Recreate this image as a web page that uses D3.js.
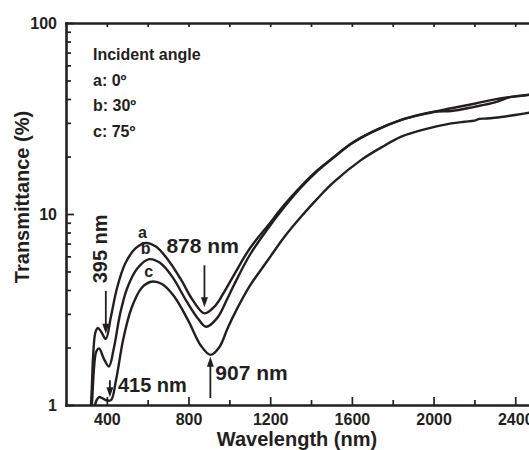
<!DOCTYPE html>
<html>
<head>
<meta charset="utf-8">
<script src="https://cdnjs.cloudflare.com/ajax/libs/d3/7.8.5/d3.min.js"></script>
<style>
body { margin: 0; background: #fff; }
svg text { font-family: "Liberation Sans", Arial, sans-serif; font-weight: bold; fill: #231f20; }
</style>
</head>
<body>
<div id="chart"></div>
<script>
// curve a (0 deg)
const waveA  = [318, 326, 334, 344, 356, 372, 395, 420, 450, 490, 540, 590, 640, 700, 760, 820, 878, 930, 980, 1025, 1100, 1189, 1270, 1352, 1430, 1515, 1597, 1700, 1842, 1960, 2087, 2200, 2300, 2400, 2500]
const transA = [0.8, 1.2, 1.9, 2.4, 2.53, 2.42, 2.22, 2.9, 4.1, 5.5, 6.6, 7.05, 6.75, 5.75, 4.6, 3.55, 3.02, 3.3, 4.0, 4.85, 6.6, 8.7, 11.2, 14.0, 16.9, 20.0, 23.4, 26.9, 31.1, 33.6, 35.8, 37.8, 39.8, 41.3, 42.5]
// curve b (30 deg)
const waveB  = [322, 330, 338, 348, 362, 385, 410, 435, 465, 500, 550, 608, 660, 720, 790, 850, 886, 940, 990, 1025, 1100, 1189, 1270, 1352, 1430, 1515, 1597, 1700, 1842, 1960, 2020, 2087, 2200, 2300, 2370, 2400, 2500]
const transB = [0.8, 1.15, 1.6, 1.9, 1.98, 1.75, 1.59, 2.0, 3.0, 4.1, 5.2, 5.8, 5.55, 4.7, 3.5, 2.8, 2.57, 2.85, 3.6, 4.3, 6.1, 8.4, 10.9, 13.8, 16.7, 19.9, 23.3, 26.9, 31.1, 33.5, 34.4, 34.6, 36.4, 38.4, 40.8, 41.3, 42.4]
// curve c (75 deg)
const waveC  = [332, 340, 350, 362, 375, 395, 420, 445, 480, 520, 570, 617, 670, 730, 800, 860, 907, 950, 990, 1025, 1100, 1189, 1270, 1352, 1430, 1515, 1646, 1750, 1842, 1960, 2087, 2150, 2200, 2225, 2260, 2300, 2400, 2500]
const transC = [0.8, 0.97, 1.06, 1.1, 1.09, 1.06, 1.06, 1.35, 2.2, 3.2, 4.1, 4.42, 4.3, 3.7, 2.75, 2.05, 1.83, 2.0, 2.5, 3.0, 4.2, 5.74, 7.6, 9.7, 12.0, 14.8, 19.2, 22.5, 25.4, 27.8, 29.8, 30.4, 30.8, 31.5, 31.6, 31.9, 33.0, 34.3]

const curveNames = ['a', 'b', 'c']
const legendLines = ['Incident angle', 'a: 0º', 'b: 30º', 'c: 75º']

const xMajor = [400, 800, 1200, 1600, 2000, 2400]
const xMinor = [600, 1000, 1400, 1800, 2200]
const yMajor = [1, 10, 100]
const yMinor = [2, 3, 4, 5, 6, 7, 8, 9, 20, 30, 40, 50, 60, 70, 80, 90]

// marked features: [label, wavelength, curve index]
const marks = [['395 nm', 395, 0], ['415 nm', 415, 2], ['878 nm', 878, 0], ['907 nm', 907, 2]]

const width = 529, height = 450
const margin = {top: 23, left: 66, bottom: 45}
const ink = '#231f20'

const svg = d3.select('#chart').append('svg')
    .attr('width', width)
    .attr('height', height)

const x = d3.scaleLinear().domain([200, 2500]).range([margin.left, margin.left + 2300 * 0.2042])
const y = d3.scaleLog().domain([1, 100]).range([height - margin.bottom, margin.top])

const series = [
    waveA.map((w, i) => [w, transA[i]]),
    waveB.map((w, i) => [w, transB[i]]),
    waveC.map((w, i) => [w, transC[i]])
]

// clip so curves start at the bottom axis
svg.append('clipPath').attr('id', 'plot-clip')
    .append('rect')
    .attr('x', x(200)).attr('y', y(100))
    .attr('width', x(2500) - x(200)).attr('height', y(1) - y(100))

const line = d3.line()
    .x(d => x(d[0]))
    .y(d => y(d[1]))
    .curve(d3.curveCatmullRom.alpha(0.5))

svg.append('g').attr('clip-path', 'url(#plot-clip)')
    .selectAll('path').data(series).enter().append('path')
    .attr('d', line)
    .attr('fill', 'none')
    .attr('stroke', ink)
    .attr('stroke-width', 2.4)
    .attr('stroke-linejoin', 'round')

// axes
function styleAxis(g, domainWidth) {
    g.select('.domain').attr('stroke', ink).attr('stroke-width', domainWidth).attr('stroke-linecap', 'square')
    g.selectAll('.tick line').attr('stroke', ink).attr('stroke-width', 1.7)
    g.selectAll('.tick text').style('font-size', '16px').attr('fill', ink)
}

let gx = svg.append('g').attr('transform', 'translate(0,' + y(1) + ')')
    .call(d3.axisBottom(x).tickValues(xMajor).tickSize(-8).tickSizeOuter(0).tickPadding(9).tickFormat(d3.format('d')))
styleAxis(gx, 2.6)

let gxm = svg.append('g').attr('transform', 'translate(0,' + y(1) + ')')
    .call(d3.axisBottom(x).tickValues(xMinor).tickSize(-5).tickFormat(''))
gxm.select('.domain').remove()
styleAxis(gxm, 0)

let gxt = svg.append('g').attr('transform', 'translate(0,' + y(100) + ')')
    .call(d3.axisTop(x).tickValues(xMajor.concat(xMinor)).tickSize(-4).tickSizeOuter(0).tickFormat(''))
styleAxis(gxt, 2.6)

let gy = svg.append('g').attr('transform', 'translate(' + x(200) + ',0)')
    .call(d3.axisLeft(y).tickValues(yMajor).tickSize(-8).tickSizeOuter(0).tickPadding(9).tickFormat(d3.format('d')))
styleAxis(gy, 2.6)

let gym = svg.append('g').attr('transform', 'translate(' + x(200) + ',0)')
    .call(d3.axisLeft(y).tickValues(yMinor).tickSize(-5).tickFormat(''))
gym.select('.domain').remove()
styleAxis(gym, 0)

// axis titles
svg.append('text').text('Wavelength (nm)')
    .attr('x', 297).attr('y', 446)
    .attr('text-anchor', 'middle')
    .style('font-size', '20px')
svg.append('text').text('Transmittance (%)')
    .attr('transform', 'translate(29,197) rotate(-90)')
    .attr('text-anchor', 'middle')
    .style('font-size', '20px')

// legend
svg.append('g').selectAll('text').data(legendLines).enter().append('text')
    .text(d => d)
    .attr('x', 93)
    .attr('y', (d, i) => 60 + i * 25.5)
    .style('font-size', '16px')

// curve letters above each first-order peak
const letterPos = [[575, 7.05], [590, 5.8], [605, 4.42]]
svg.append('g').selectAll('text').data(curveNames).enter().append('text')
    .text(d => d)
    .attr('x', (d, i) => x(letterPos[i][0]))
    .attr('y', (d, i) => y(letterPos[i][1]) - 5)
    .attr('text-anchor', 'middle')
    .style('font-size', '16px')

// arrows to the marked features
function arrow(xp, y0, y1) {
    let dir = y1 > y0 ? 1 : -1
    let g = svg.append('g')
    g.append('line').attr('x1', xp).attr('x2', xp).attr('y1', y0).attr('y2', y1 - dir * 8)
        .attr('stroke', ink).attr('stroke-width', 1.8)
    g.append('path')
        .attr('d', 'M' + (xp - 3.5) + ',' + (y1 - dir * 10) + 'L' + (xp + 3.5) + ',' + (y1 - dir * 10) + 'L' + xp + ',' + y1 + 'Z')
        .attr('fill', ink)
}

marks.forEach(m => {
    let s = series[m[2]]
    let i = s.findIndex(p => p[0] >= m[1])
    let xp = x(m[1])
    let yc = y(s[i][1])
    if (m[0] == '395 nm') {
        arrow(xp, yc - 48, yc - 5)
        svg.append('text').text(m[0])
            .attr('transform', 'translate(' + (xp + 1) + ',' + (yc - 90) + ') rotate(-90)')
            .attr('text-anchor', 'middle')
            .style('font-size', '20px')
    } else if (m[0] == '415 nm') {
        arrow(xp, yc - 20, yc - 3)
        svg.append('text').text(m[0]).attr('x', xp + 8).attr('y', yc - 8).style('font-size', '20px')
    } else if (m[0] == '878 nm') {
        arrow(xp, yc - 48, yc - 6)
        svg.append('text').text(m[0]).attr('x', xp - 38).attr('y', yc - 60).style('font-size', '21px')
    } else {
        arrow(xp, y(1) - 7, yc + 2)
        svg.append('text').text(m[0]).attr('x', xp + 5).attr('y', yc + 25).style('font-size', '21px')
    }
})
</script>
</body>
</html>
